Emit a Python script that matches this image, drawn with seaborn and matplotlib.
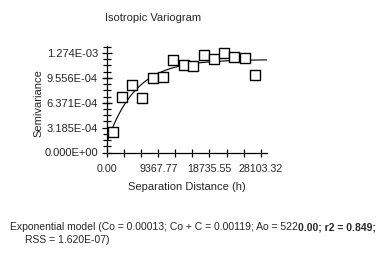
import numpy as np
import pandas as pd
import matplotlib
matplotlib.use("Agg")
import matplotlib.pyplot as plt
import seaborn as sns

# ---- data ----
lag_distance = [1150, 2690, 4630, 6450, 8470, 10290, 12120, 14020, 15780,
                17740, 19620, 21450, 23280, 25230, 27120]
semivariance = [2.62e-4, 7.14e-4, 8.60e-4, 6.94e-4, 9.50e-4, 9.63e-4, 1.181e-3,
                1.117e-3, 1.104e-3, 1.245e-3, 1.193e-3, 1.270e-3, 1.219e-3,
                1.210e-3, 0.992e-3]

# model parameters (from the caption)
nugget = 0.00013
sill = 0.00119
range_a0 = 5220.0

x_tick_values = [0.00, 9367.77, 18735.55, 28103.32]
x_tick_labels = ["0.00", "9367.77", "18735.55", "28103.32"]
y_tick_values = [0.0, 3.185e-4, 6.371e-4, 9.556e-4, 1.274e-3]
y_tick_labels = ["0.000E+00", "3.185E-04", "6.371E-04", "9.556E-04", "1.274E-03"]

title = "Isotropic Variogram"
xlabel = "Separation Distance (h)"
ylabel = "Semivariance"
caption_normal = "Exponential model (Co = 0.00013; Co + C = 0.00119; Ao = 522"
caption_bold = "0.00; r2 = 0.849;"
caption_line2 = "RSS = 1.620E-07)"

sns.set_style("white")
plt.rcParams["font.family"] = ["Liberation Sans", "DejaVu Sans"]
FS = 8
TFS = 7.7
CFS = 7.5

fig = plt.figure(figsize=(3.85, 2.59), dpi=100)
ax = fig.add_axes([107 / 385, 1 - 152.5 / 259, 160 / 385, 106.5 / 259])

xmax = 29255
h = np.linspace(0, xmax, 400)
model = pd.DataFrame({"h": h, "g": nugget + (sill - nugget) * (1 - np.exp(-h / range_a0))})
pts = pd.DataFrame({"h": lag_distance, "g": semivariance})

sns.lineplot(data=model, x="h", y="g", ax=ax, color="black", linewidth=0.8, zorder=2)
sns.scatterplot(data=pts, x="h", y="g", ax=ax, marker="s", s=58,
                facecolor="white", edgecolor="black", linewidth=1.0, zorder=3)

ax.set_xlim(0, xmax)
ax.set_ylim(0, 1.364e-3)
ax.set_xticks(x_tick_values)
ax.set_xticklabels(x_tick_labels, fontsize=TFS)
ax.set_xticks([3122.59 * i for i in range(10)], minor=True)
ax.set_yticks(y_tick_values)
ax.set_yticklabels(y_tick_labels, fontsize=FS)
ax.set_yticks([3.185e-4 / 4 * i for i in range(18)], minor=True)
ax.tick_params(which="both", direction="inout", length=6, width=0.9, color="black",
               bottom=True, left=True, pad=3)
ax.tick_params(axis="y", which="major", length=7)
ax.tick_params(axis="x", pad=5)

for s in ["top", "right"]:
    ax.spines[s].set_visible(False)
for s in ["left", "bottom"]:
    ax.spines[s].set_color("black")
    ax.spines[s].set_linewidth(0.9)

ax.set_xlabel("")
ax.set_ylabel("")
fig.text(187 / 385, 1 - 187 / 259, xlabel, ha="center", va="center", fontsize=FS)
fig.text(38 / 385, 1 - 103 / 259, ylabel, ha="center", va="center", rotation=90, fontsize=FS)
fig.text(153 / 385, 1 - 18 / 259, title, ha="center", va="center", fontsize=FS)

t1 = fig.text(10 / 385, 1 - 227 / 259, caption_normal, ha="left", va="center", fontsize=CFS)
fig.canvas.draw()
bb = t1.get_window_extent(fig.canvas.get_renderer())
fig.text(bb.x1 / fig.bbox.width, 1 - 227 / 259, caption_bold, ha="left", va="center",
         fontsize=CFS, fontweight="bold")
fig.text(25 / 385, 1 - 240 / 259, caption_line2, ha="left", va="center", fontsize=CFS)

fig.savefig("out.png", dpi=100, facecolor="white")
